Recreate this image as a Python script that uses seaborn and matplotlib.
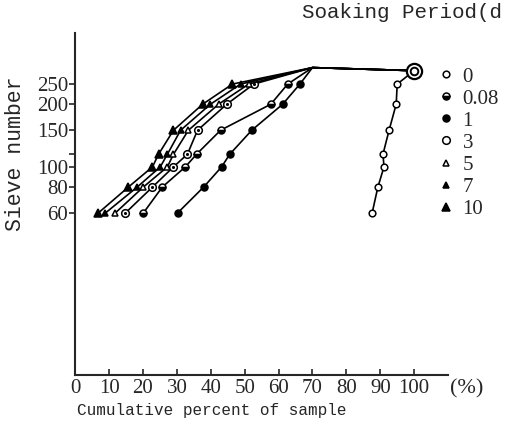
import seaborn as sns
import matplotlib.pyplot as plt
from matplotlib.lines import Line2D

# sieve rows (log scale) and cumulative percent for each soaking period (days)
sieve = [60, 80, 100, 115, 150, 200, 250]
pct_0 = [87.6, 89.3, 91.1, 90.8, 92.6, 94.7, 95.0]
pct_008 = [20.1, 25.7, 32.5, 35.8, 42.9, 57.7, 62.7]
pct_1 = [30.2, 37.9, 43.2, 45.6, 52.1, 61.2, 66.3]
pct_3 = [14.8, 22.8, 29.0, 33.1, 36.1, 44.7, 52.7]
pct_5 = [11.8, 20.1, 27.2, 29.0, 33.4, 42.3, 51.2]
pct_7 = [8.9, 18.3, 25.1, 27.2, 31.1, 39.9, 48.8]
pct_10 = [6.8, 15.7, 22.8, 24.6, 29.0, 37.6, 46.4]

# curves join at the top and end at 100 %
apex_pct, apex_sieve = 70, 300
pan_pct, pan_sieve = 100, 290

xticks = list(range(0, 101, 10))
yticks = [60, 80, 100, 115, 150, 200, 250]
ytick_labels = ['60', '80', '100', '', '150', '200', '250']

sns.set_style('ticks')
serif = ['Liberation Serif', 'DejaVu Serif']
mono = ['Liberation Mono', 'DejaVu Sans Mono']
plt.rcParams['font.family'] = serif

fig = plt.figure(figsize=(5.08, 4.34), dpi=100)
ax = fig.add_axes([0.148, 0.136, 0.734, 0.788])

styles = [
    ('0', pct_0, dict(marker='o', ms=4.8, mfc='white')),
    ('0.08', pct_008, dict(marker='o', ms=5, mfc='black', fillstyle='bottom', markerfacecoloralt='white')),
    ('1', pct_1, dict(marker='o', ms=5, mfc='black')),
    ('3', pct_3, dict(marker='o', ms=5.5, mfc='white')),
    ('5', pct_5, dict(marker='^', ms=5, mfc='white')),
    ('7', pct_7, dict(marker='^', ms=4.5, mfc='black')),
    ('10', pct_10, dict(marker='^', ms=5.5, mfc='black')),
]

handles = []
for label, pct, st in styles:
    if label == '0':
        xs = pct + [pan_pct]
        ys = sieve + [pan_sieve]
    else:
        xs = pct + [apex_pct, pan_pct]
        ys = sieve + [apex_sieve, pan_sieve]
    sns.lineplot(x=xs, y=ys, ax=ax, sort=False, estimator=None, color='black',
                 lw=1.2, markevery=list(range(len(sieve))), mec='black', mew=1.1, **st)
    handles.append(Line2D([], [], ls='none', color='black', mec='black', mew=1.1, **st))

# dot inside the "3" circles
sns.scatterplot(x=pct_3, y=sieve, ax=ax, marker='o', s=5, color='black', linewidth=0, zorder=5)
# double circle at the end point
sns.scatterplot(x=[pan_pct], y=[pan_sieve], ax=ax, marker='o', s=120, facecolor='white',
                edgecolor='black', linewidth=1.6, zorder=6)
sns.scatterplot(x=[pan_pct], y=[pan_sieve], ax=ax, marker='o', s=30, facecolor='white',
                edgecolor='black', linewidth=1.4, zorder=7)

ax.set_yscale('log')
ax.set_xlim(0, 110)
ax.set_ylim(10, 440)
ax.set_xticks(xticks)
ax.set_xticklabels([str(t) for t in xticks], fontsize=15)
ax.set_yticks(yticks)
ax.set_yticklabels(ytick_labels, fontsize=15)
ax.yaxis.set_minor_locator(plt.NullLocator())
ax.tick_params(axis='x', direction='in', length=4, width=1.2, pad=3)
ax.tick_params(axis='y', direction='out', length=4, width=1.2, pad=1)
sns.despine(ax=ax)
for s in ['left', 'bottom']:
    ax.spines[s].set_linewidth(1.5)
ax.set_xlabel('')
ax.set_ylabel('')

ax.text(115.5, -0.012, '(%)', transform=ax.get_xaxis_transform(), ha='center', va='top', fontsize=16)

fig.text(0.417, 0.055, 'Cumulative percent of sample', ha='center', va='center',
         fontsize=11.5, family=mono)
fig.text(0.03, 0.645, 'Sieve number', ha='center', va='center', rotation=90,
         fontsize=15.5, family=mono)
fig.text(0.594, 0.972, 'Soaking Period(d', ha='left', va='center', fontsize=15, family=mono)

fig.legend(handles=handles, labels=[s[0] for s in styles], loc='upper left',
           bbox_to_anchor=(0.845, 0.865), frameon=False, fontsize=15,
           handlelength=0.8, handletextpad=0.4, labelspacing=0.12, borderaxespad=0)

fig.savefig('out.png', dpi=100)
